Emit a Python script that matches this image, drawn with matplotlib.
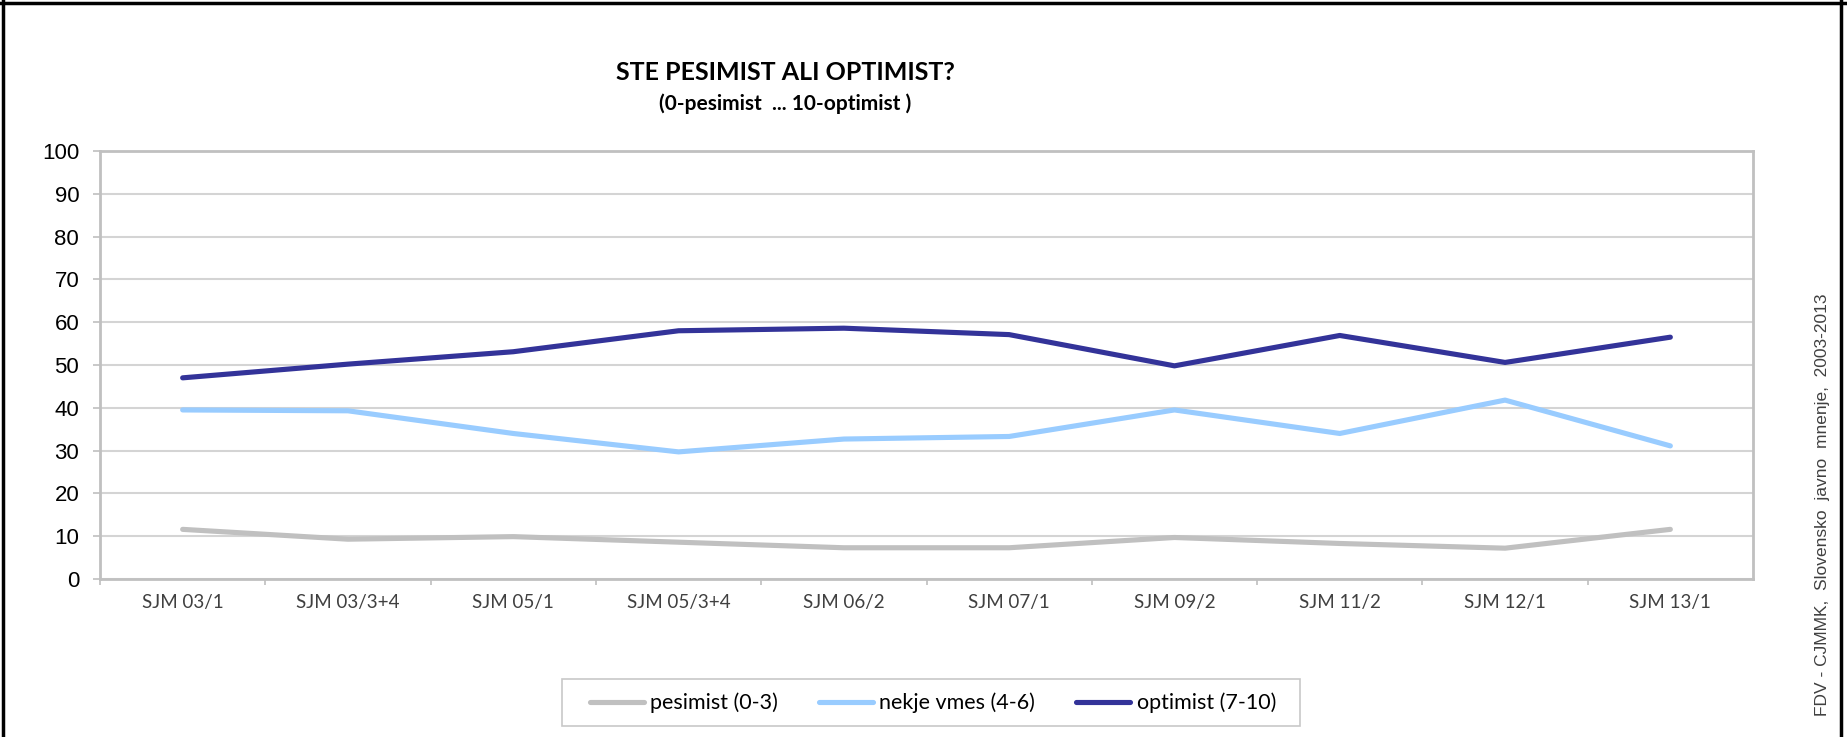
import matplotlib.pyplot as plt
from matplotlib.patches import Rectangle
from matplotlib.lines import Line2D

waves = ["SJM 03/1", "SJM 03/3+4", "SJM 05/1", "SJM 05/3+4", "SJM 06/2",
         "SJM 07/1", "SJM 09/2", "SJM 11/2", "SJM 12/1", "SJM 13/1"]
pesimist = [11.6, 9.3, 9.9, 8.6, 7.3, 7.3, 9.7, 8.3, 7.2, 11.6]
nekje_vmes = [39.5, 39.3, 34.0, 29.7, 32.7, 33.3, 39.5, 34.0, 41.8, 31.1]
optimist = [47.0, 50.2, 53.1, 58.0, 58.6, 57.1, 49.8, 56.9, 50.6, 56.5]

W, H = 1847, 737
fig = plt.figure(figsize=(W / 100, H / 100), dpi=100)
ax = fig.add_axes([100 / W, 1 - 579 / H, (1753 - 100) / W, (579 - 151) / H])

x = range(len(waves))
ax.plot(x, pesimist, color="#c0c0c0", lw=3.7, solid_capstyle="round", label="pesimist (0-3)", zorder=3)
ax.plot(x, nekje_vmes, color="#99ccff", lw=3.7, solid_capstyle="round", label="nekje vmes (4-6)", zorder=3)
ax.plot(x, optimist, color="#333399", lw=3.7, solid_capstyle="round", label="optimist (7-10)", zorder=3)

ax.set_xlim(-0.5, len(waves) - 0.5)
ax.set_ylim(0, 100)
ax.set_yticks(range(0, 101, 10))
ax.grid(axis="y", color="#d4d4d4", lw=1.5)
ax.set_axisbelow(True)

ax.set_xticks([i - 0.5 for i in range(len(waves))])
ax.set_xticklabels([])
ax.set_xticks(list(x), minor=True)
ax.set_xticklabels(waves, minor=True, fontfamily="Lato", fontsize=13.5, color="#404040")
ax.tick_params(axis="x", which="major", length=4, width=1.2, color="#bfbfbf", direction="out")
ax.tick_params(axis="x", which="minor", length=0, pad=11)
ax.tick_params(axis="y", length=5, width=1.2, color="#bfbfbf", pad=10)
for lab in ax.get_yticklabels():
    lab.set_fontfamily("Liberation Sans")
    lab.set_fontsize(16)

for s in ax.spines.values():
    s.set_color("#c0c0c0")
    s.set_linewidth(2)

fig.text(785 / W, 1 - 73 / H, "STE PESIMIST ALI OPTIMIST?", ha="center", va="center",
         fontfamily="Lato", fontweight="bold", fontsize=18)
fig.text(785 / W, 1 - 104 / H, "(0-pesimist  ... 10-optimist )", ha="center", va="center",
         fontfamily="Lato", fontweight="bold", fontsize=15)

fig.text(1823 / W, 1 - 505 / H, "FDV - CJMMK,  Slovensko  javno  mnenje,  2003-2013",
         rotation=90, ha="center", va="center", fontfamily="Liberation Sans",
         fontsize=12.5, color="#404040")

# legend box drawn separately to match the wide padding
fig.patches.append(Rectangle((562 / W, 1 - 726 / H), (1300 - 562) / W, (726 - 679) / H,
                             transform=fig.transFigure, fill=False, edgecolor="#c8c8c8", lw=1.2))
handles, labels = ax.get_legend_handles_labels()
fig.legend(handles, labels, loc="center", bbox_to_anchor=(933 / W, 1 - 703 / H), ncol=3,
           frameon=False, prop={"family": "Lato", "size": 15.5}, handlelength=2.5,
           handletextpad=0.3, columnspacing=1.9)

# outer frame of the image
for coords in [((3, 3), (0, H)), ((0, W), (H - 3, H - 3)), ((W - 6, W - 6), (0, H))]:
    fig.add_artist(Line2D([c / W for c in coords[0]], [c / H for c in coords[1]],
                          transform=fig.transFigure, color="black", lw=2.5))

fig.savefig("out.png", dpi=100)
